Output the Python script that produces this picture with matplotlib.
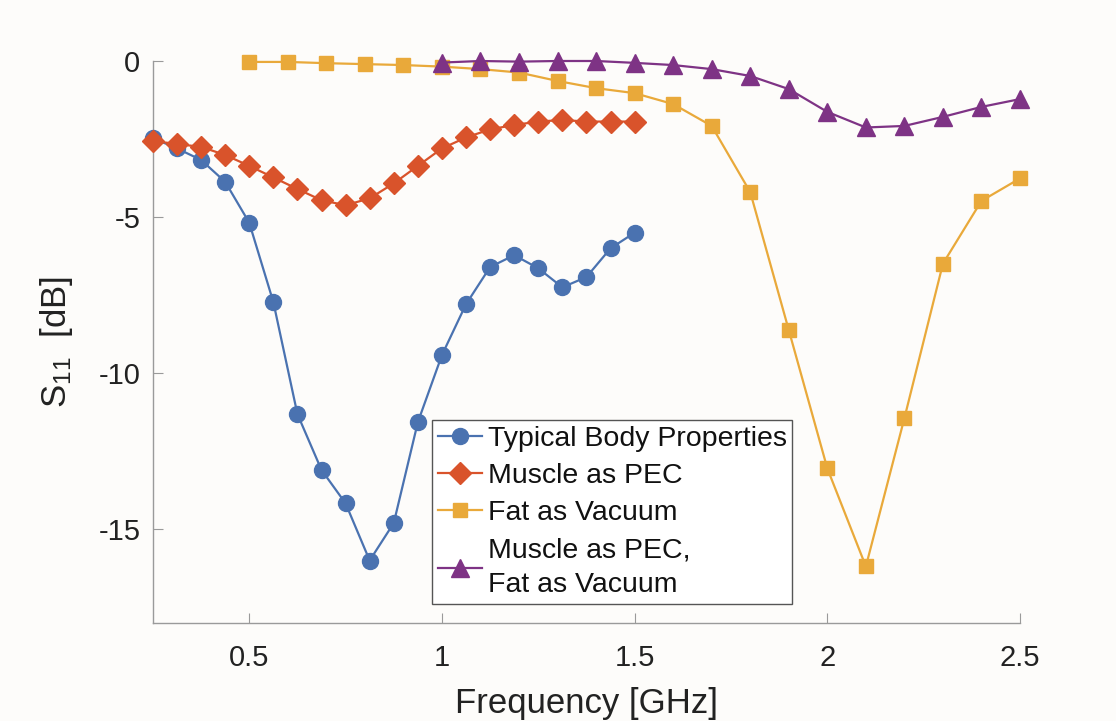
import matplotlib
matplotlib.use('Agg')
import matplotlib.pyplot as plt
import numpy as np

plt.rcParams['font.family'] = ['Liberation Sans', 'DejaVu Sans']
plt.rcParams['axes.unicode_minus'] = False

## Data
f_body = [0.25, 0.3125, 0.375, 0.4375, 0.5, 0.5625, 0.625, 0.6875, 0.75, 0.8125, 0.875,
          0.9375, 1.0, 1.0625, 1.125, 1.1875, 1.25, 1.3125, 1.375, 1.4375, 1.5]
s_body = [-2.47, -2.8, -3.17, -3.87, -5.18, -7.72, -11.31, -13.1, -14.17, -16.0, -14.8,
          -11.57, -9.42, -7.79, -6.6, -6.22, -6.64, -7.25, -6.92, -6.0, -5.5]
s_pec = [-2.56, -2.66, -2.75, -3.01, -3.36, -3.73, -4.1, -4.46, -4.62, -4.4, -3.92,
         -3.36, -2.8, -2.45, -2.19, -2.05, -1.94, -1.89, -1.94, -1.94, -1.94]
f_fat = [0.5, 0.6, 0.7, 0.8, 0.9, 1.0, 1.1, 1.2, 1.3, 1.4, 1.5, 1.6, 1.7, 1.8, 1.9,
         2.0, 2.1, 2.2, 2.3, 2.4, 2.5]
s_fat = [-0.03, -0.03, -0.07, -0.1, -0.13, -0.18, -0.26, -0.37, -0.64, -0.87, -1.03,
         -1.38, -2.08, -4.2, -8.62, -13.05, -16.19, -11.44, -6.49, -4.48, -3.76]
f_both = [1.0, 1.1, 1.2, 1.3, 1.4, 1.5, 1.6, 1.7, 1.8, 1.9, 2.0, 2.1, 2.2, 2.3, 2.4, 2.5]
s_both = [-0.05, 0.0, -0.02, 0.0, 0.0, -0.06, -0.13, -0.26, -0.48, -0.9, -1.63, -2.13,
          -2.08, -1.79, -1.47, -1.22]

labels = ['Typical Body Properties', 'Muscle as PEC', 'Fat as Vacuum',
          'Muscle as PEC,\nFat as Vacuum']
colors = ['#4a72b0', '#d9532b', '#e9a93a', '#7e3385']

fig = plt.figure(figsize=(11.16, 7.21), dpi=100, facecolor='#fdfcfa')
ax = fig.add_axes([0.137, 0.136, 0.777, 0.7794])
ax.set_facecolor('#fdfcfa')

lw = 1.6
ax.plot(f_body, s_body, '-o', c=colors[0], lw=lw, ms=11.5, label=labels[0], clip_on=False, zorder=3)
ax.plot(f_body, s_pec, '-D', c=colors[1], lw=lw, ms=11, label=labels[1], clip_on=False, zorder=3)
ax.plot(f_fat, s_fat, '-s', c=colors[2], lw=lw, ms=10, label=labels[2], clip_on=False, zorder=3)
ax.plot(f_both, s_both, '-^', c=colors[3], lw=lw, ms=13, label=labels[3], clip_on=False, zorder=4)

ax.set_xlim(0.25, 2.5)
ax.set_ylim(-18, 0)
ax.set_xticks([0.5, 1, 1.5, 2, 2.5])
ax.set_xticklabels(['0.5', '1', '1.5', '2', '2.5'])
ax.set_yticks([0, -5, -10, -15])
ax.set_yticklabels(['0', '-5', '-10', '-15'])

for s in ['top', 'right']:
    ax.spines[s].set_visible(False)
for s in ['left', 'bottom']:
    ax.spines[s].set_color('#9a9a9a')
    ax.spines[s].set_linewidth(1.0)
ax.tick_params(axis='both', direction='in', length=7, color='#9a9a9a', labelsize=21,
               labelcolor='#222222')
ax.tick_params(axis='x', pad=15)
ax.tick_params(axis='y', pad=9)

ax.set_xlabel('Frequency [GHz]', fontsize=25, color='#222222', labelpad=11)
ax.set_ylabel(r'$\mathregular{S_{11}}$  [dB]', fontsize=25, color='#222222', labelpad=17)

leg = ax.legend(loc='lower left', bbox_to_anchor=(0.322, 0.034), borderaxespad=0,
                fontsize=20.5, fancybox=False, edgecolor='#555555', framealpha=1,
                facecolor='white', handlelength=1.55, handletextpad=0.2,
                labelspacing=0.39, borderpad=0.2)
leg.get_frame().set_linewidth(1.0)
for t in leg.get_texts():
    t.set_color('#111111')
    t.set_linespacing(1.45)

plt.savefig('out.png', dpi=100, facecolor=fig.get_facecolor())
